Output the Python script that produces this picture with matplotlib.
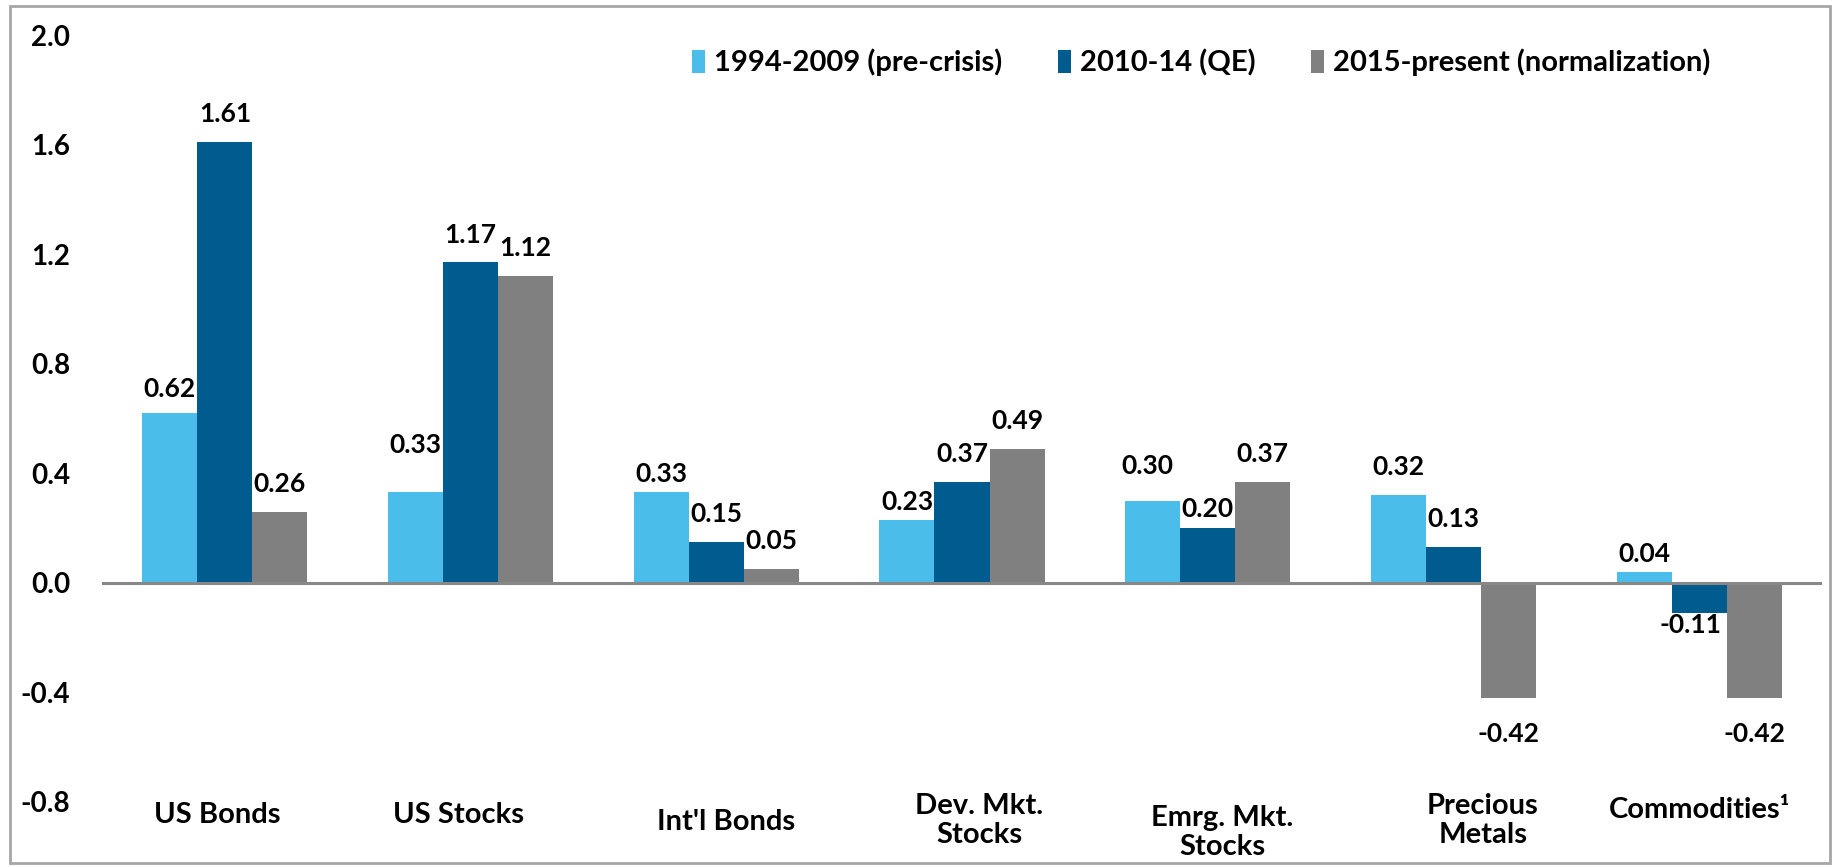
import matplotlib.pyplot as plt
from matplotlib.patches import Rectangle
import numpy as np

plt.rcParams['font.family'] = ['Lato', 'DejaVu Sans']
plt.rcParams['font.weight'] = 'bold'

categories = ["US Bonds", "US Stocks", "Int'l Bonds", "Dev. Mkt.\nStocks",
              "Emrg. Mkt.\nStocks", "Precious\nMetals", "Commodities\u00b9"]
series_names = ["1994-2009 (pre-crisis)", "2010-14 (QE)", "2015-present (normalization)"]
pre_crisis = [0.62, 0.33, 0.33, 0.23, 0.30, 0.32, 0.04]
qe = [1.61, 1.17, 0.15, 0.37, 0.20, 0.13, -0.11]
normalization = [0.26, 1.12, 0.05, 0.49, 0.37, -0.42, -0.42]
colors = ["#4BBDEA", "#005B8E", "#808080"]

# label offsets in points (vertical), tweaked where labels crowd
label_dy = [
    [17, 34, 13, 13, 25, 20, 13],
    [20, 20, 20, 20, 14, 20, -9],
    [20, 20, 20, 20, 20, -26, -26],
]
label_dx = [
    [0, 0, 0, 0, -4, 0, 0],
    [0, 0, 0, 0, 0, 0, -6],
    [0, 0, 0, 0, 0, 0, 0],
]
# category label vertical positions (data units, below the axis floor)
cat_y = [-0.847, -0.847, -0.873, -0.869, -0.91, -0.869, -0.829]
cat_dx = [-0.03, -0.05, 0.04, 0.07, 0.06, 0.12, 0.0]

W, H = 1833, 867
fig = plt.figure(figsize=(W / 100, H / 100), dpi=100)
ax = fig.add_axes([102 / W, 1 - 802 / H, (1822 - 102) / W, (802 - 35) / H])

x = np.arange(len(categories))
width = 0.224
all_series = [pre_crisis, qe, normalization]
for k, (vals, col, name) in enumerate(zip(all_series, colors, series_names)):
    pos = x + (k - 1) * width
    ax.bar(pos, vals, width, color=col, label=name, zorder=2)
    for i, v in enumerate(vals):
        ax.annotate(f"{v:.2f}", (pos[i], v), xytext=(label_dx[k][i], label_dy[k][i]),
                    textcoords="offset points", ha="center", va="center",
                    fontsize=19, fontweight="bold", color="black")

ax.set_xlim(-0.5, 6.5)
ax.set_ylim(-0.8, 2.0)
ticks = np.arange(-0.8, 2.01, 0.4)
ax.set_yticks(ticks)
ax.set_yticklabels([f"{t:.1f}" for t in ticks])
ax.tick_params(axis="y", length=0, pad=23, labelsize=20)
ax.set_xticks([])
for s in ax.spines.values():
    s.set_visible(False)
ax.axhline(0, color="#888888", lw=2.2, zorder=3)

for i, c in enumerate(categories):
    ax.text(i + cat_dx[i], cat_y[i], c, ha="center", va="center", fontsize=21,
            fontweight="bold", linespacing=1.15, clip_on=False)

ax.legend(loc="upper center", bbox_to_anchor=(0.639, 1.005), ncol=3, frameon=False,
          fontsize=21, handlelength=0.45, handleheight=0.85, handletextpad=0.3,
          columnspacing=1.9, borderaxespad=0.2)

fig.patches.append(Rectangle((10 / W, 4 / H), (1830 - 10) / W, (861 - 4) / H,
                             transform=fig.transFigure, fill=False,
                             edgecolor="#A6A6A6", lw=2))

fig.savefig("out.png", dpi=100)
